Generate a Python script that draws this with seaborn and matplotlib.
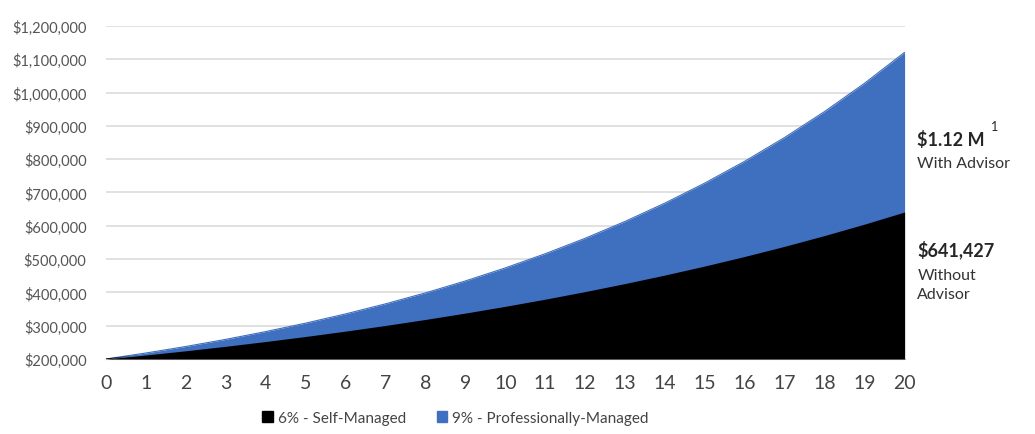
import numpy as np
import pandas as pd
import matplotlib.pyplot as plt
import seaborn as sns
from matplotlib.patches import Patch

# 연도 (0~20년)
years = list(range(0, 21))

# 6% 자가 운용
self_managed = [200000, 212000, 224720, 238203, 252495, 267645, 283704, 300726,
                318770, 337896, 358170, 379660, 402439, 426586, 452181, 479312,
                508070, 538555, 570868, 605120, 641427]

# 9% 전문가 운용
pro_managed = [200000, 218000, 237620, 259006, 282316, 307725, 335420, 365608,
               398512, 434378, 473473, 516085, 562533, 613161, 668345, 728496,
               794061, 865526, 943424, 1028332, 1120882]

y_ticks = [200000, 300000, 400000, 500000, 600000, 700000, 800000, 900000,
           1000000, 1100000, 1200000]

df = pd.DataFrame({'year': years, 'self': self_managed, 'pro': pro_managed})

sns.set_style('white')
plt.rcParams['font.family'] = ['Lato', 'DejaVu Sans']

blue = '#3f6fbf'
fig = plt.figure(figsize=(10.35, 4.35), dpi=100)
ax = fig.add_axes([0.1024, 0.1724, 0.7716, 0.7656])

for y in y_ticks:
    ax.axhline(y, color='#dcdcdc', linewidth=1.2, zorder=0)

sns.lineplot(data=df, x='year', y='pro', color=blue, linewidth=0.8, ax=ax)
sns.lineplot(data=df, x='year', y='self', color='black', linewidth=0.8, ax=ax)
ax.fill_between(df['year'], 200000, df['pro'], color=blue, linewidth=0, zorder=2)
ax.fill_between(df['year'], 200000, df['self'], color='black', linewidth=0, zorder=3)

ax.set_xlim(0, 20)
ax.set_ylim(200000, 1200000)
ax.set_xticks(years)
ax.set_xticklabels([str(y) for y in years], fontsize=14, color='#444444')
ax.set_yticks(y_ticks)
ax.set_yticklabels(['${:,}'.format(v) for v in y_ticks], fontsize=10.5, color='#555555')
ax.set_xlabel('')
ax.set_ylabel('')
ax.tick_params(axis='x', length=3, color='#bbbbbb', pad=8)
ax.tick_params(axis='y', length=0, pad=14)
for s in ['top', 'right', 'left']:
    ax.spines[s].set_visible(False)
ax.spines['bottom'].set_color('#bbbbbb')

# 오른쪽 주석
ax.text(1.016, 0.66, '$1.12 M', transform=ax.transAxes, fontsize=13, fontweight='bold', va='center')
ax.text(1.108, 0.70, '1', transform=ax.transAxes, fontsize=9, va='center')
ax.text(1.016, 0.59, 'With Advisor', transform=ax.transAxes, fontsize=11.5, color='#333333', va='center')
ax.text(1.016, 0.33, '$641,427', transform=ax.transAxes, fontsize=13, fontweight='bold', va='center')
ax.text(1.016, 0.252, 'Without', transform=ax.transAxes, fontsize=11.5, color='#333333', va='center')
ax.text(1.016, 0.195, 'Advisor', transform=ax.transAxes, fontsize=11.5, color='#333333', va='center')

handles = [Patch(color='black', label='6% - Self-Managed'),
           Patch(color=blue, label='9% - Professionally-Managed')]
fig.legend(handles=handles, loc='lower center', bbox_to_anchor=(0.44, -0.01), ncol=2,
           frameon=False, fontsize=11, handlelength=0.7, handleheight=0.7,
           handletextpad=0.3, columnspacing=2.0, labelcolor='#444444')

fig.savefig('out.png', dpi=100)
